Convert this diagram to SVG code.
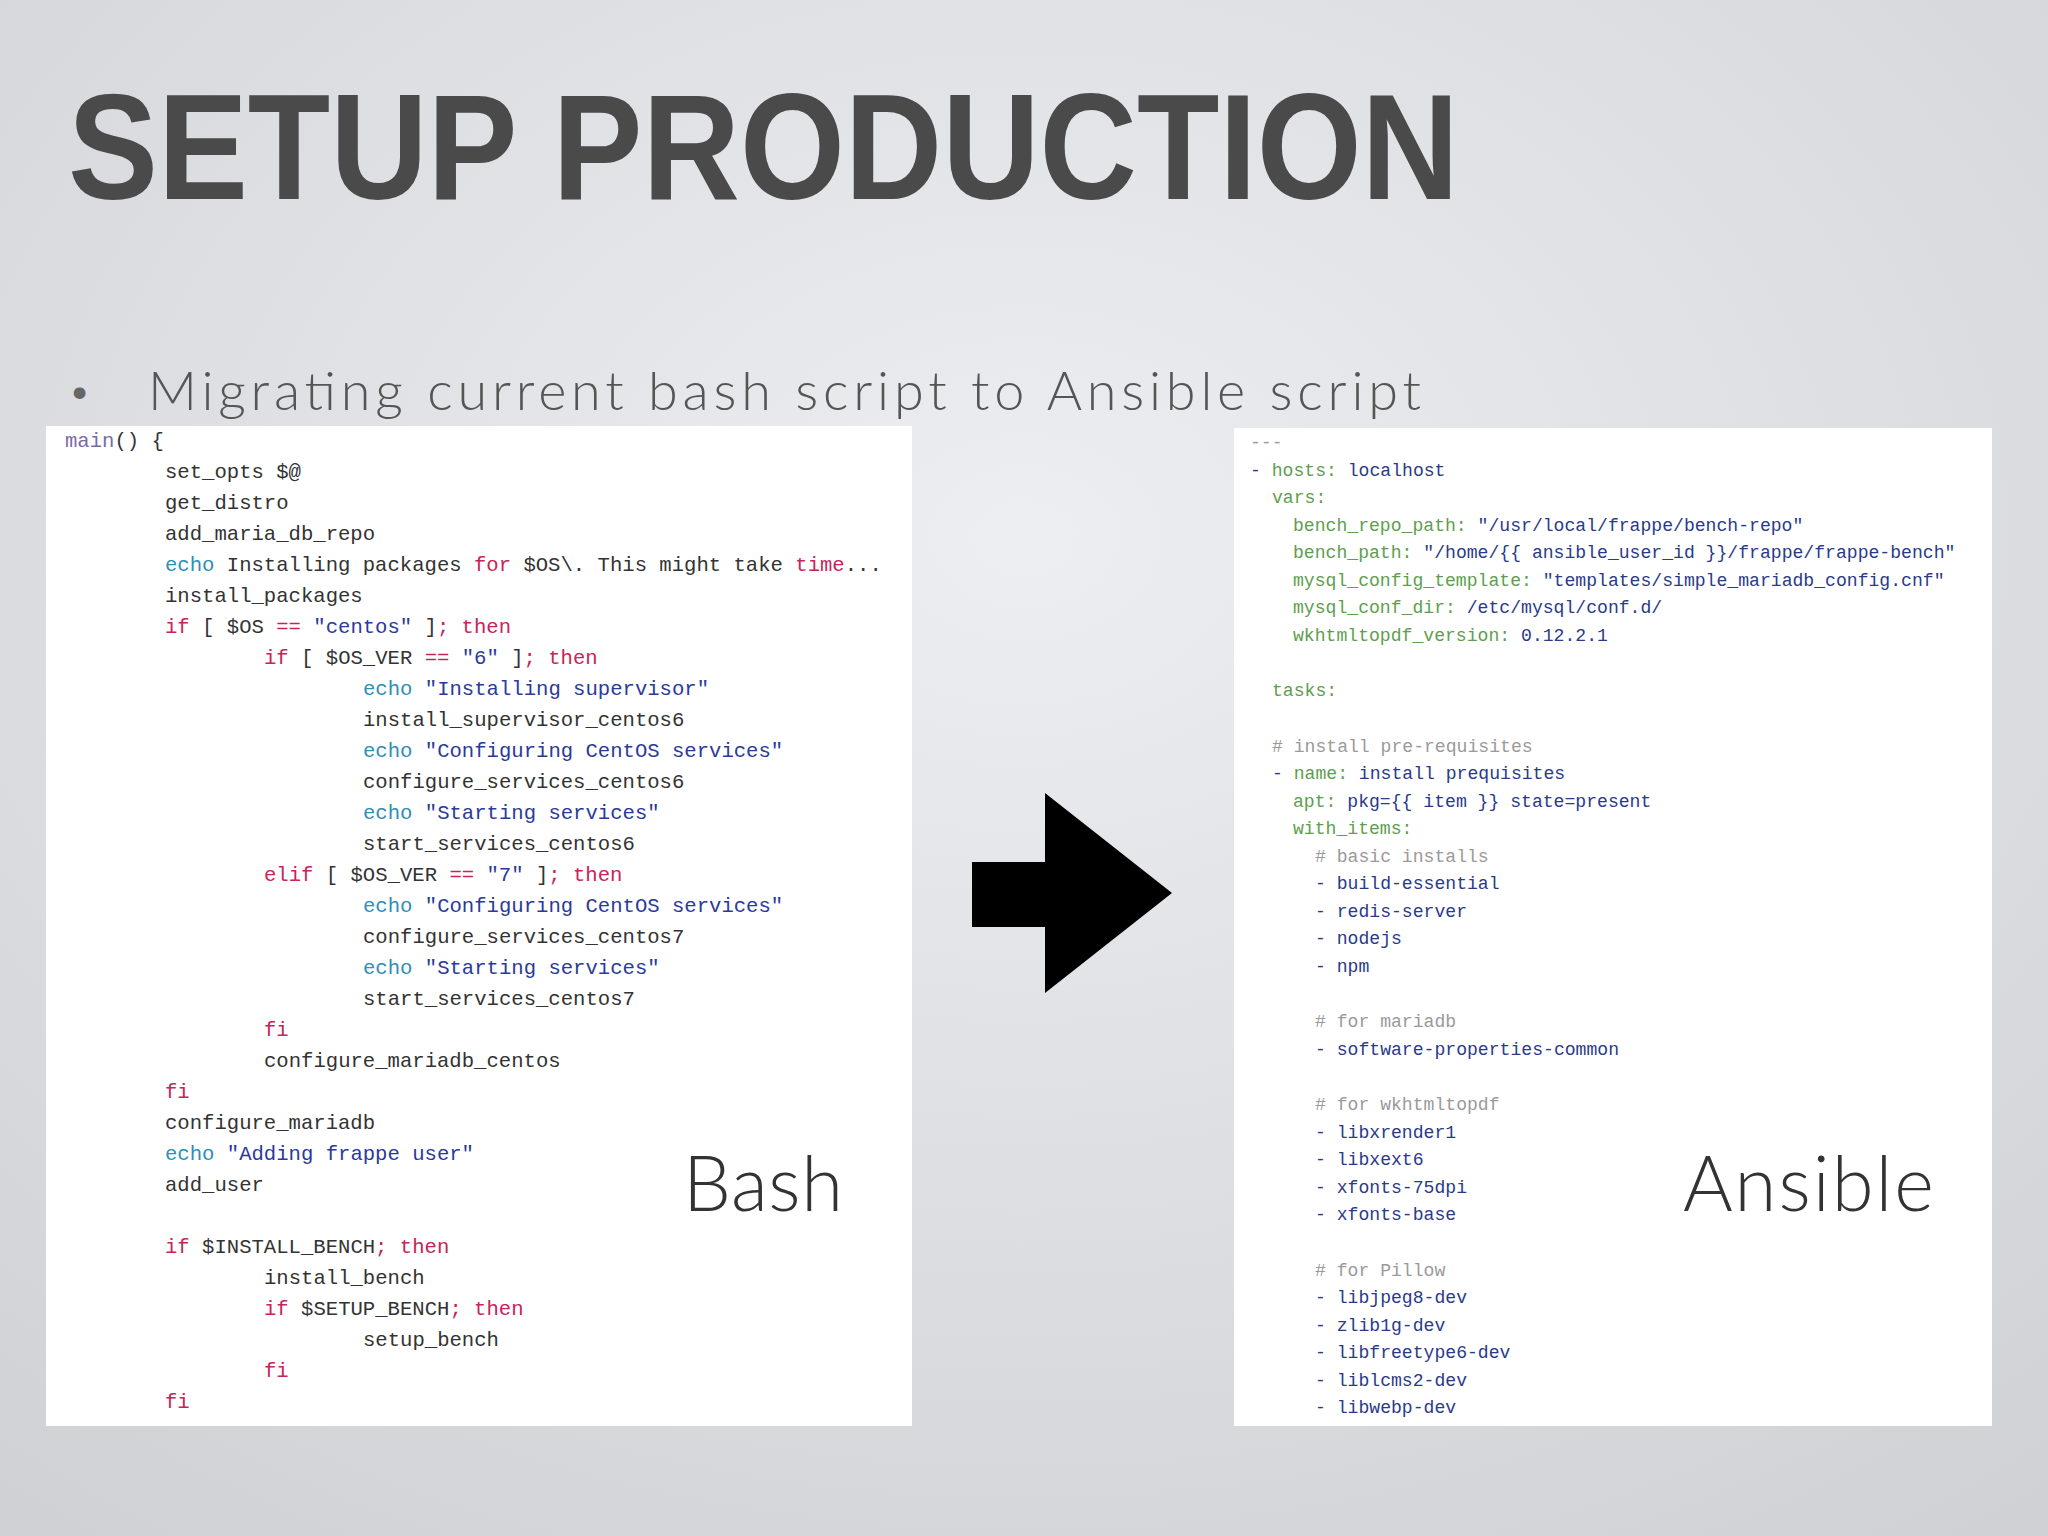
<svg xmlns="http://www.w3.org/2000/svg" width="2048" height="1536" viewBox="0 0 2048 1536">
<defs>
<radialGradient id="bg" cx="0.5" cy="0.35" r="0.8">
<stop offset="0" stop-color="#eceef1"/>
<stop offset="1" stop-color="#cfd1d5"/>
</radialGradient>
<style>
.title{font-family:"Liberation Sans",Arial,sans-serif;font-weight:bold;font-size:150px;fill:#4a4a4b}
.sub{font-family:Lato,"Open Sans",sans-serif;font-weight:300;font-size:54px;fill:#555}
.lbl{font-family:Lato,"Open Sans",sans-serif;font-weight:300;font-size:76px;fill:#333}
.cb{font-family:"Liberation Mono","DejaVu Sans Mono",monospace;font-size:20.6px;fill:#333}
.ca{font-family:"Liberation Mono","DejaVu Sans Mono",monospace;font-size:18.1px;fill:#2a3a8a}
.k{fill:#c9245a}.e{fill:#2f8fb5}.s{fill:#2b3a9a}.m{fill:#7b6aa6}
.g{fill:#5e9e4e}.c{fill:#9a9a9a}.v{fill:#2a3a8a}
</style>
</defs>
<rect width="2048" height="1536" fill="url(#bg)"/>
<g id="title"><text class="title" x="68" y="199" textLength="1391" lengthAdjust="spacingAndGlyphs">SETUP PRODUCTION</text></g>
<g id="subtitle"><text class="sub" x="68" y="405" style="font-size:40px;fill:#666">•</text><text class="sub" x="148" y="410" textLength="1273">Migrating current bash script to Ansible script</text></g>
<g id="bash-panel">
<rect x="46" y="426" width="866" height="1000" fill="#ffffff"/>
<text class="cb" xml:space="preserve">
<tspan x="65" y="447"><tspan class="m">main</tspan>() {</tspan>
<tspan x="165" y="478">set_opts $@</tspan>
<tspan x="165" y="509">get_distro</tspan>
<tspan x="165" y="540">add_maria_db_repo</tspan>
<tspan x="165" y="571"><tspan class="e">echo</tspan> Installing packages <tspan class="k">for</tspan> $OS\. This might take <tspan class="k">time</tspan>...</tspan>
<tspan x="165" y="602">install_packages</tspan>
<tspan x="165" y="633"><tspan class="k">if</tspan> [ $OS <tspan class="k">==</tspan> <tspan class="s">"centos"</tspan> ]<tspan class="k">; then</tspan></tspan>
<tspan x="264" y="664"><tspan class="k">if</tspan> [ $OS_VER <tspan class="k">==</tspan> <tspan class="s">"6"</tspan> ]<tspan class="k">; then</tspan></tspan>
<tspan x="363" y="695"><tspan class="e">echo</tspan> <tspan class="s">"Installing supervisor"</tspan></tspan>
<tspan x="363" y="726">install_supervisor_centos6</tspan>
<tspan x="363" y="757"><tspan class="e">echo</tspan> <tspan class="s">"Configuring CentOS services"</tspan></tspan>
<tspan x="363" y="788">configure_services_centos6</tspan>
<tspan x="363" y="819"><tspan class="e">echo</tspan> <tspan class="s">"Starting services"</tspan></tspan>
<tspan x="363" y="850">start_services_centos6</tspan>
<tspan x="264" y="881"><tspan class="k">elif</tspan> [ $OS_VER <tspan class="k">==</tspan> <tspan class="s">"7"</tspan> ]<tspan class="k">; then</tspan></tspan>
<tspan x="363" y="912"><tspan class="e">echo</tspan> <tspan class="s">"Configuring CentOS services"</tspan></tspan>
<tspan x="363" y="943">configure_services_centos7</tspan>
<tspan x="363" y="974"><tspan class="e">echo</tspan> <tspan class="s">"Starting services"</tspan></tspan>
<tspan x="363" y="1005">start_services_centos7</tspan>
<tspan x="264" y="1036" class="k">fi</tspan>
<tspan x="264" y="1067">configure_mariadb_centos</tspan>
<tspan x="165" y="1098" class="k">fi</tspan>
<tspan x="165" y="1129">configure_mariadb</tspan>
<tspan x="165" y="1160"><tspan class="e">echo</tspan> <tspan class="s">"Adding frappe user"</tspan></tspan>
<tspan x="165" y="1191">add_user</tspan>
<tspan x="165" y="1253"><tspan class="k">if</tspan> $INSTALL_BENCH<tspan class="k">; then</tspan></tspan>
<tspan x="264" y="1284">install_bench</tspan>
<tspan x="264" y="1315"><tspan class="k">if</tspan> $SETUP_BENCH<tspan class="k">; then</tspan></tspan>
<tspan x="363" y="1346">setup_bench</tspan>
<tspan x="264" y="1377" class="k">fi</tspan>
<tspan x="165" y="1408" class="k">fi</tspan>
</text>
<text class="lbl" x="683" y="1211" textLength="160">Bash</text>
</g>
<g id="arrow"><path d="M972 862H1045V793L1172 893L1045 993V927H972Z" fill="#000"/></g>
<g id="ansible-panel">
<rect x="1234" y="428" width="758" height="998" fill="#ffffff"/>
<text class="ca" xml:space="preserve">
<tspan x="1250" y="448" class="c">---</tspan>
<tspan x="1250" y="476">- <tspan class="g">hosts:</tspan> localhost</tspan>
<tspan x="1272" y="503" class="g">vars:</tspan>
<tspan x="1293" y="531"><tspan class="g">bench_repo_path:</tspan> "/usr/local/frappe/bench-repo"</tspan>
<tspan x="1293" y="558"><tspan class="g">bench_path:</tspan> "/home/{{ ansible_user_id }}/frappe/frappe-bench"</tspan>
<tspan x="1293" y="586"><tspan class="g">mysql_config_template:</tspan> "templates/simple_mariadb_config.cnf"</tspan>
<tspan x="1293" y="613"><tspan class="g">mysql_conf_dir:</tspan> /etc/mysql/conf.d/</tspan>
<tspan x="1293" y="641"><tspan class="g">wkhtmltopdf_version:</tspan> 0.12.2.1</tspan>
<tspan x="1272" y="696" class="g">tasks:</tspan>
<tspan x="1272" y="752" class="c"># install pre-requisites</tspan>
<tspan x="1272" y="779">- <tspan class="g">name:</tspan> install prequisites</tspan>
<tspan x="1293" y="807"><tspan class="g">apt:</tspan> pkg={{ item }} state=present</tspan>
<tspan x="1293" y="834" class="g">with_items:</tspan>
<tspan x="1315" y="862" class="c"># basic installs</tspan>
<tspan x="1315" y="889">- build-essential</tspan>
<tspan x="1315" y="917">- redis-server</tspan>
<tspan x="1315" y="944">- nodejs</tspan>
<tspan x="1315" y="972">- npm</tspan>
<tspan x="1315" y="1027" class="c"># for mariadb</tspan>
<tspan x="1315" y="1055">- software-properties-common</tspan>
<tspan x="1315" y="1110" class="c"># for wkhtmltopdf</tspan>
<tspan x="1315" y="1138">- libxrender1</tspan>
<tspan x="1315" y="1165">- libxext6</tspan>
<tspan x="1315" y="1193">- xfonts-75dpi</tspan>
<tspan x="1315" y="1220">- xfonts-base</tspan>
<tspan x="1315" y="1276" class="c"># for Pillow</tspan>
<tspan x="1315" y="1303">- libjpeg8-dev</tspan>
<tspan x="1315" y="1331">- zlib1g-dev</tspan>
<tspan x="1315" y="1358">- libfreetype6-dev</tspan>
<tspan x="1315" y="1386">- liblcms2-dev</tspan>
<tspan x="1315" y="1413">- libwebp-dev</tspan>
</text>
<text class="lbl" x="1683" y="1211" textLength="251">Ansible</text>
</g>
</svg>
